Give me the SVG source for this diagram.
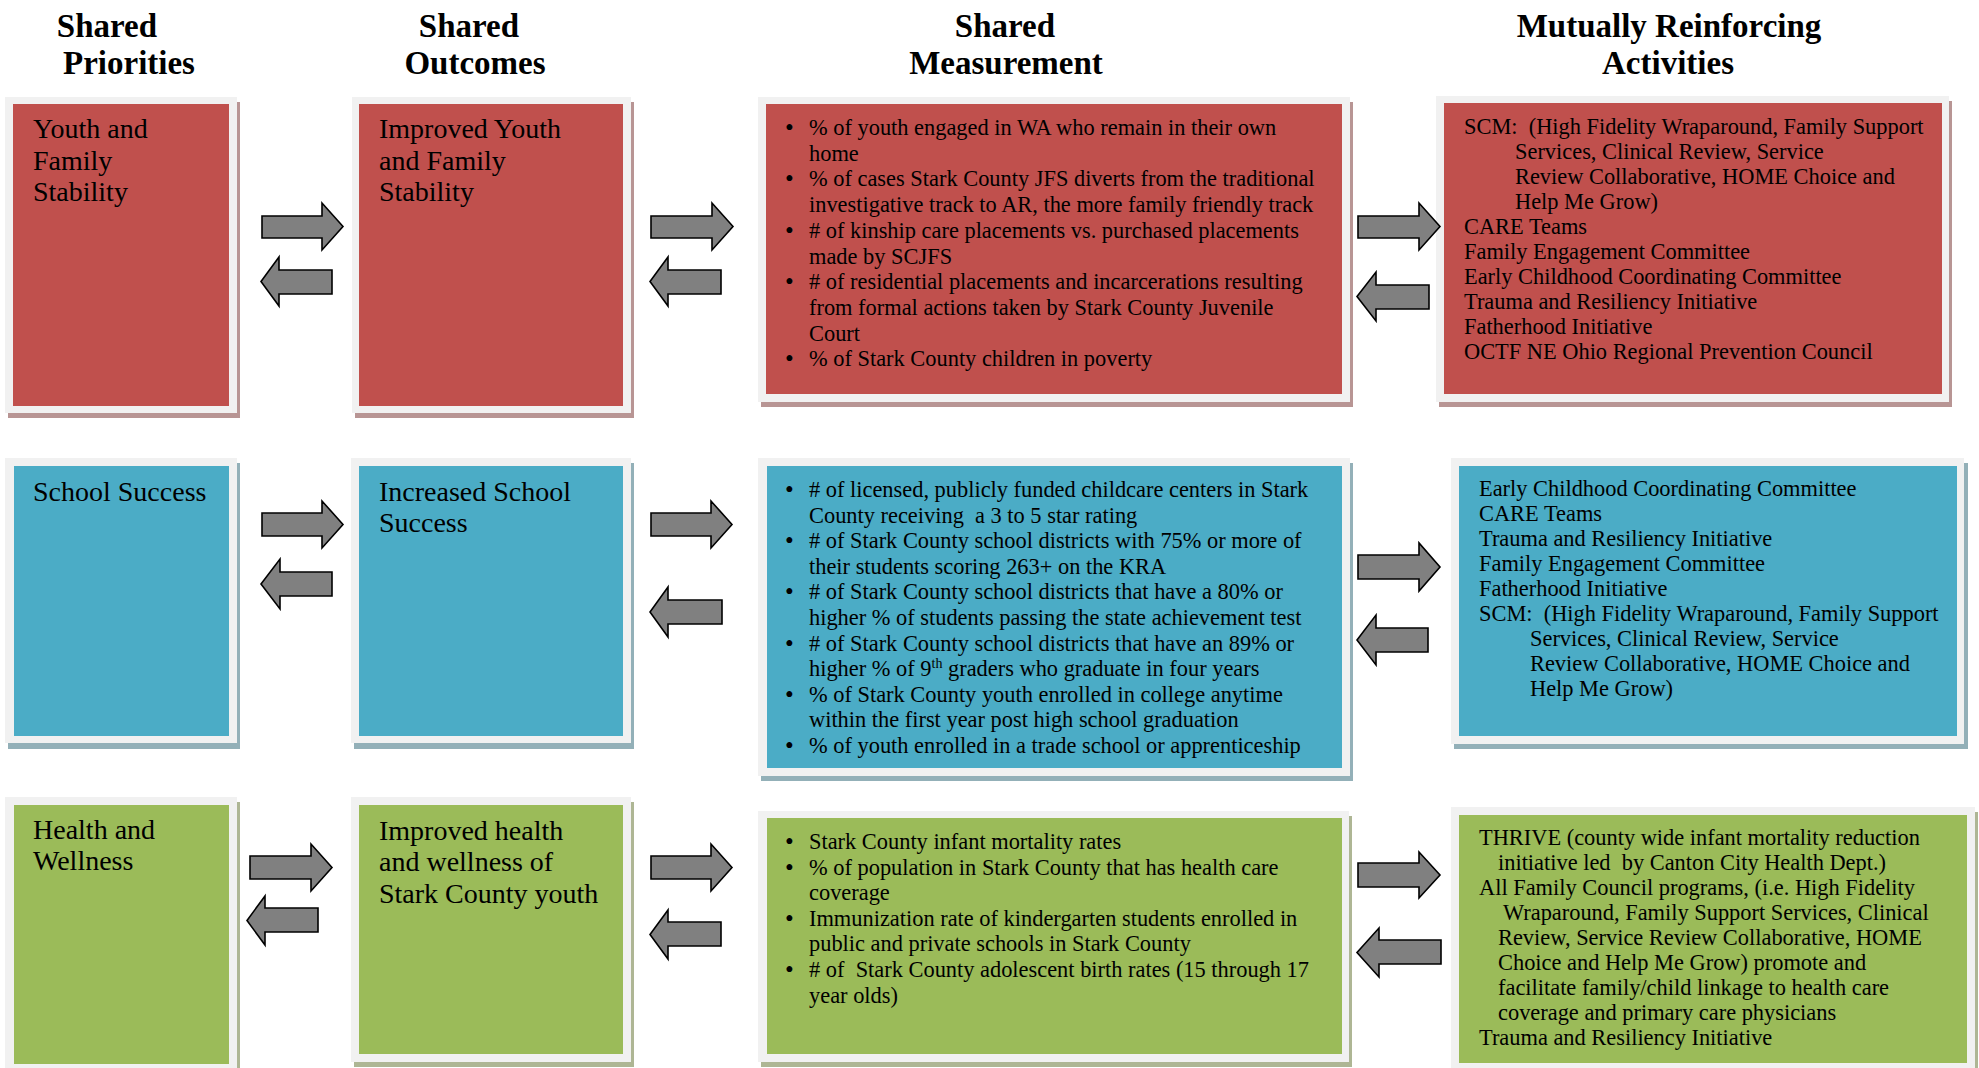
<svg xmlns="http://www.w3.org/2000/svg" width="1979" height="1068" viewBox="0 0 1979 1068">
<style>
  .bg{fill:#ffffff}
  .frame{fill:#f1f1f1}
  .shr{fill:#b89594}
  .shb{fill:#93b0b8}
  .shg{fill:#aeb694}
  .red{fill:#c0504d}
  .blue{fill:#4bacc6}
  .green{fill:#9bbb59}
  .head{font-family:"Liberation Serif","Times New Roman",serif;font-weight:bold;font-size:33px;fill:#000;text-anchor:middle}
  .title{font-family:"Liberation Serif","Times New Roman",serif;font-size:28px;fill:#000}
  .body{font-family:"Liberation Serif","Times New Roman",serif;font-size:22.4px;fill:#000}
  .bul{font-size:25px}
  .arrow{fill:#808080;stroke:#000;stroke-width:1.6;stroke-linejoin:miter}
</style>
<rect class="bg" x="0" y="0" width="1979" height="1068"/>

<g id="headings">
  <text class="head" x="107" y="37">Shared</text>
  <text class="head" x="129" y="74">Priorities</text>
  <text class="head" x="469" y="37">Shared</text>
  <text class="head" x="475" y="74">Outcomes</text>
  <text class="head" x="1005" y="37">Shared</text>
  <text class="head" x="1006" y="74">Measurement</text>
  <text class="head" x="1669" y="37">Mutually Reinforcing</text>
  <text class="head" x="1668" y="74">Activities</text>
</g>

<!-- Row 1 -->
<g id="priority-youth-family">
  <rect class="shr" x="8" y="102" width="232" height="316"/>
  <rect class="frame" x="5" y="97" width="232" height="316"/>
  <rect class="red" x="13" y="104" width="216" height="302"/>
  <text class="title" x="33" y="138">Youth and</text>
  <text class="title" x="33" y="170">Family</text>
  <text class="title" x="33" y="201">Stability</text>
</g>
<g id="outcome-youth-family">
  <rect class="shr" x="355" y="102" width="279" height="316"/>
  <rect class="frame" x="352" y="97" width="279" height="316"/>
  <rect class="red" x="359" y="104" width="264" height="302"/>
  <text class="title" x="379" y="138">Improved Youth</text>
  <text class="title" x="379" y="170">and Family</text>
  <text class="title" x="379" y="201">Stability</text>
</g>
<g id="measurement-youth-family">
  <rect class="shr" x="761" y="102" width="592" height="305"/>
  <rect class="frame" x="758" y="97" width="592" height="305"/>
  <rect class="red" x="766" y="104" width="576" height="290"/>
  <g class="body">
    <text class="bul" x="785" y="136">•</text>
    <text x="809" y="135">% of youth engaged in WA who remain in their own</text>
    <text x="809" y="160.7">home</text>
    <text class="bul" x="785" y="187.4">•</text>
    <text x="809" y="186.4">% of cases Stark County JFS diverts from the traditional</text>
    <text x="809" y="212">investigative track to AR, the more family friendly track</text>
    <text class="bul" x="785" y="238.8">•</text>
    <text x="809" y="237.8"># of kinship care placements vs. purchased placements</text>
    <text x="809" y="263.5">made by SCJFS</text>
    <text class="bul" x="785" y="290.2">•</text>
    <text x="809" y="289.2"># of residential placements and incarcerations resulting</text>
    <text x="809" y="315">from formal actions taken by Stark County Juvenile</text>
    <text x="809" y="340.6">Court</text>
    <text class="bul" x="785" y="367.3">•</text>
    <text x="809" y="366.3">% of Stark County children in poverty</text>
  </g>
</g>
<g id="activities-youth-family">
  <rect class="shr" x="1439" y="101" width="513" height="306"/>
  <rect class="frame" x="1436" y="96" width="513" height="306"/>
  <rect class="red" x="1444" y="103" width="498" height="291"/>
  <g class="body">
    <text x="1464" y="134">SCM:&#160; (High Fidelity Wraparound, Family Support</text>
    <text x="1515" y="159">Services, Clinical Review, Service</text>
    <text x="1515" y="184">Review Collaborative, HOME Choice and</text>
    <text x="1515" y="209">Help Me Grow)</text>
    <text x="1464" y="234">CARE Teams</text>
    <text x="1464" y="259">Family Engagement Committee</text>
    <text x="1464" y="284">Early Childhood Coordinating Committee</text>
    <text x="1464" y="309">Trauma and Resiliency Initiative</text>
    <text x="1464" y="334">Fatherhood Initiative</text>
    <text x="1464" y="359">OCTF NE Ohio Regional Prevention Council</text>
  </g>
</g>

<!-- Row 2 -->
<g id="priority-school">
  <rect class="shb" x="8" y="463" width="232" height="286"/>
  <rect class="frame" x="5" y="458" width="232" height="285"/>
  <rect class="blue" x="14" y="466" width="215" height="270"/>
  <text class="title" x="33" y="501">School Success</text>
</g>
<g id="outcome-school">
  <rect class="shb" x="354" y="463" width="280" height="286"/>
  <rect class="frame" x="351" y="458" width="280" height="285"/>
  <rect class="blue" x="359" y="466" width="264" height="270"/>
  <text class="title" x="379" y="501">Increased School</text>
  <text class="title" x="379" y="532">Success</text>
</g>
<g id="measurement-school">
  <rect class="shb" x="761" y="463" width="592" height="318"/>
  <rect class="frame" x="758" y="458" width="592" height="318"/>
  <rect class="blue" x="767" y="466" width="575" height="302"/>
  <g class="body">
    <text class="bul" x="785" y="498">•</text>
    <text x="809" y="497"># of licensed, publicly funded childcare centers in Stark</text>
    <text x="809" y="522.6">County receiving&#160; a 3 to 5 star rating</text>
    <text class="bul" x="785" y="549.2">•</text>
    <text x="809" y="548.2"># of Stark County school districts with 75% or more of</text>
    <text x="809" y="573.8">their students scoring 263+ on the KRA</text>
    <text class="bul" x="785" y="600.4">•</text>
    <text x="809" y="599.4"># of Stark County school districts that have a 80% or</text>
    <text x="809" y="625">higher % of students passing the state achievement test</text>
    <text class="bul" x="785" y="651.6">•</text>
    <text x="809" y="650.6"># of Stark County school districts that have an 89% or</text>
    <text x="809" y="676.2">higher % of 9<tspan font-size="14" dy="-8">th</tspan><tspan dy="8"> graders who graduate in four years</tspan></text>
    <text class="bul" x="785" y="702.8">•</text>
    <text x="809" y="701.8">% of Stark County youth enrolled in college anytime</text>
    <text x="809" y="727.4">within the first year post high school graduation</text>
    <text class="bul" x="785" y="754">•</text>
    <text x="809" y="753">% of youth enrolled in a trade school or apprenticeship</text>
  </g>
</g>
<g id="activities-school">
  <rect class="shb" x="1454" y="463" width="514" height="286"/>
  <rect class="frame" x="1451" y="458" width="513" height="286"/>
  <rect class="blue" x="1459" y="466" width="498" height="270"/>
  <g class="body">
    <text x="1479" y="496">Early Childhood Coordinating Committee</text>
    <text x="1479" y="521">CARE Teams</text>
    <text x="1479" y="546">Trauma and Resiliency Initiative</text>
    <text x="1479" y="571">Family Engagement Committee</text>
    <text x="1479" y="596">Fatherhood Initiative</text>
    <text x="1479" y="621">SCM:&#160; (High Fidelity Wraparound, Family Support</text>
    <text x="1530" y="646">Services, Clinical Review, Service</text>
    <text x="1530" y="671">Review Collaborative, HOME Choice and</text>
    <text x="1530" y="696">Help Me Grow)</text>
  </g>
</g>

<!-- Row 3 -->
<g id="priority-health">
  <rect class="shg" x="8" y="802" width="232" height="275"/>
  <rect class="frame" x="5" y="797" width="232" height="275"/>
  <rect class="green" x="14" y="805" width="215" height="259"/>
  <text class="title" x="33" y="839">Health and</text>
  <text class="title" x="33" y="870">Wellness</text>
</g>
<g id="outcome-health">
  <rect class="shg" x="354" y="802" width="280" height="265"/>
  <rect class="frame" x="351" y="797" width="280" height="265"/>
  <rect class="green" x="359" y="805" width="264" height="249"/>
  <text class="title" x="379" y="840">Improved health</text>
  <text class="title" x="379" y="871">and wellness of</text>
  <text class="title" x="379" y="903">Stark County youth</text>
</g>
<g id="measurement-health">
  <rect class="shg" x="761" y="816" width="591" height="251"/>
  <rect class="frame" x="758" y="811" width="591" height="251"/>
  <rect class="green" x="767" y="818" width="575" height="236"/>
  <g class="body">
    <text class="bul" x="785" y="850">•</text>
    <text x="809" y="849">Stark County infant mortality rates</text>
    <text class="bul" x="785" y="875.6">•</text>
    <text x="809" y="874.6">% of population in Stark County that has health care</text>
    <text x="809" y="900.2">coverage</text>
    <text class="bul" x="785" y="926.8">•</text>
    <text x="809" y="925.8">Immunization rate of kindergarten students enrolled in</text>
    <text x="809" y="951.4">public and private schools in Stark County</text>
    <text class="bul" x="785" y="978">•</text>
    <text x="809" y="977"># of&#160; Stark County adolescent birth rates (15 through 17</text>
    <text x="809" y="1002.6">year olds)</text>
  </g>
</g>
<g id="activities-health">
  <rect class="shg" x="1454" y="812" width="524" height="262"/>
  <rect class="frame" x="1451" y="807" width="524" height="262"/>
  <rect class="green" x="1459" y="815" width="508" height="248"/>
  <g class="body">
    <text x="1479" y="845">THRIVE (county wide infant mortality reduction</text>
    <text x="1498" y="870">initiative led&#160; by Canton City Health Dept.)</text>
    <text x="1479" y="895">All Family Council programs, (i.e. High Fidelity</text>
    <text x="1503" y="920">Wraparound, Family Support Services, Clinical</text>
    <text x="1498" y="945">Review, Service Review Collaborative, HOME</text>
    <text x="1498" y="970">Choice and Help Me Grow) promote and</text>
    <text x="1498" y="995">facilitate family/child linkage to health care</text>
    <text x="1498" y="1020">coverage and primary care physicians</text>
    <text x="1479" y="1045">Trauma and Resiliency Initiative</text>
  </g>
</g>

<g id="connectors">
  <!-- Row 1 -->
  <polygon class="arrow" points="262,216 322,216 322,203 343,226.5 322,250 322,238 262,238"/>
  <polygon class="arrow" points="332,270 279,270 279,257 261,281.5 279,306 279,294 332,294"/>
  <polygon class="arrow" points="651,216 712,216 712,203 733,226.5 712,250 712,238 651,238"/>
  <polygon class="arrow" points="721,270 668,270 668,257 650,281.5 668,306 668,294 721,294"/>
  <polygon class="arrow" points="1358,216 1419,216 1419,203 1440,226.5 1419,250 1419,238 1358,238"/>
  <polygon class="arrow" points="1429,285 1376,285 1376,272 1357,296.5 1376,321 1376,309 1429,309"/>
  <!-- Row 2 -->
  <polygon class="arrow" points="262,513 322,513 322,501 343,524.5 322,548 322,536 262,536"/>
  <polygon class="arrow" points="332,572 280,572 280,559 261,584 280,609 280,596 332,596"/>
  <polygon class="arrow" points="651,513 711,513 711,501 732,524.5 711,548 711,536 651,536"/>
  <polygon class="arrow" points="722,600 668,600 668,587 650,612 668,637 668,624 722,624"/>
  <polygon class="arrow" points="1358,555 1419,555 1419,543 1440,567 1419,591 1419,579 1358,579"/>
  <polygon class="arrow" points="1428,628 1376,628 1376,615 1357,640 1376,665 1376,652 1428,652"/>
  <!-- Row 3 -->
  <polygon class="arrow" points="250,856 311,856 311,844 332,867.5 311,891 311,879 250,879"/>
  <polygon class="arrow" points="318,908 265,908 265,896 247,920.5 265,945 265,932 318,932"/>
  <polygon class="arrow" points="651,856 711,856 711,844 732,867.5 711,891 711,879 651,879"/>
  <polygon class="arrow" points="721,922 668,922 668,910 650,934.5 668,959 668,946 721,946"/>
  <polygon class="arrow" points="1358,863 1419,863 1419,852 1440,875 1419,898 1419,887 1358,887"/>
  <polygon class="arrow" points="1441,940 1379,940 1379,928 1357,952.5 1379,977 1379,964 1441,964"/>
</g>
</svg>
